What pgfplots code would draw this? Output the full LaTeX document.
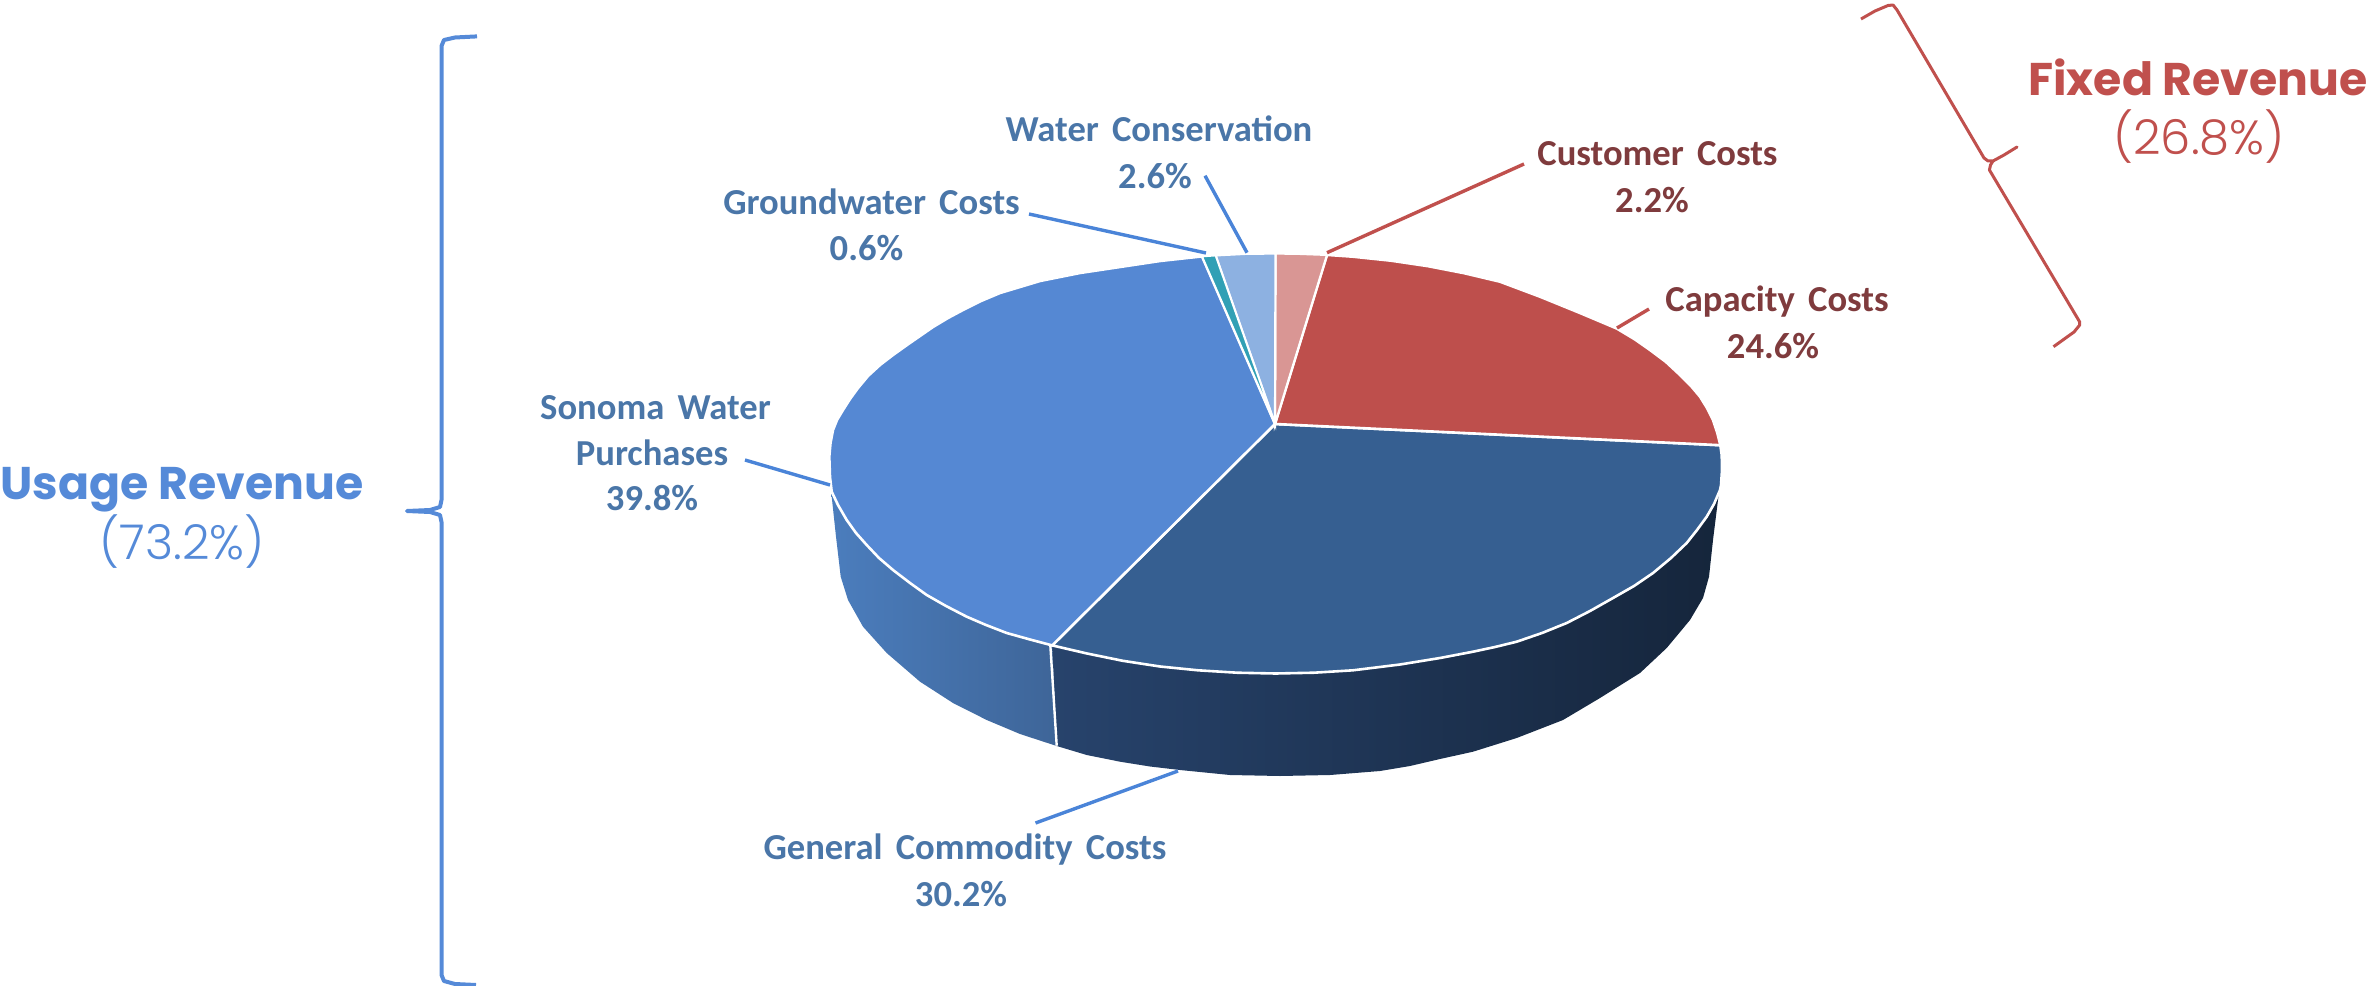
\documentclass[border=0pt]{standalone}
\usepackage{pgfplots}
\pgfplotsset{compat=1.18}
\usepackage{fontspec}
\setmainfont{Carlito}
\newfontfamily\headbold{Poppins}[BoldFont={Poppins Bold}]
\newfontfamily\headlight{Poppins Light}

\definecolor{wedgeblue}{HTML}{5588D3}
\definecolor{wedgedark}{HTML}{365F91}
\definecolor{wedgered}{HTML}{BE4F4C}
\definecolor{wedgepink}{HTML}{D99694}
\definecolor{wedgesky}{HTML}{8DB1E1}
\definecolor{wedgeteal}{HTML}{31A0B5}
\definecolor{labelblue}{HTML}{4A76A8}
\definecolor{labelred}{HTML}{7F3B3D}
\definecolor{lineblue}{HTML}{4A84D8}
\definecolor{linered}{HTML}{C0504D}
\definecolor{bracketblue}{HTML}{558AD8}
\definecolor{sideA}{HTML}{27436C}
\definecolor{sideB}{HTML}{16273E}
\definecolor{sideC}{HTML}{15253B}
\definecolor{sideD}{HTML}{4B7DBD}
\definecolor{sideE}{HTML}{3E6598}

% label centred on x with its baseline at y, pixel coordinates of the reference
\newcommand{\lbl}[4]{\node[anchor=base,inner sep=0pt,text=#1] at (axis cs:#2,#3)
  {\fontsize{18.3bp}{20bp}\selectfont\bfseries\spaceskip=0.36em #4};}

\begin{document}
\begin{tikzpicture}
\begin{axis}[
  width=1187bp, height=493bp, scale only axis,
  xmin=0, xmax=2374, ymin=0, ymax=986,
  y dir=reverse, hide axis, clip=false,
]
\path[use as bounding box] (axis cs:0,0) rectangle (axis cs:2374,986);

% side walls
\addplot[draw=none, left color=sideA, middle color=sideB, right color=sideC] coordinates {
  (1722,470) (1721,485) (1720,490) (1714,504) (1706.7,516.7) (1697,530) (1686.7,543) (1671,558) (1653,573)
  (1634,586) (1613,598) (1590,611) (1566.7,623) (1542,633) (1516.7,641.7) (1495,647) (1473,651.7) (1440,658)
  (1400,664.5) (1353,670.3) (1314,672.7) (1275.5,673.5) (1237,672.7) (1198,670.3) (1160,666.5) (1122.8,660.8)
  (1087,653.5) (1052.2,645.4)
  (1056.7,746) (1086.7,755) (1120,761.7) (1150,766.5) (1180,770) (1230,775) (1280,776) (1330,775) (1380,771)
  (1410,766) (1440,759) (1473,751.7) (1516.7,738) (1563,720) (1600,698) (1640,673) (1666.7,648) (1690,620)
  (1703,598) (1709,576.7) (1713,540) (1718,500)
} -- cycle;
\addplot[draw=none, left color=sideD, right color=sideE] coordinates {
  (831.7,491.7) (838,505) (846.7,520) (856,533) (866.7,545) (879,558) (893,570) (910,583) (926.7,595) (946,606)
  (966.7,616.7) (986,625) (1006.7,633) (1030,639.5) (1052.2,645.4)
  (1056.7,746) (1020,734) (986.7,720) (953,703) (920,681.7) (886.7,653) (863,626.7) (848,600) (840.7,576.7)
  (836,536.7) (831.7,496.7)
} -- cycle;
\addplot[white, line width=1.2bp] coordinates {(1050.3,645) (1056.7,745.7)};

% top face, one polygon per slice
\addplot[fill=wedgedark, draw=white, line width=1.3bp] coordinates { % General Commodity Costs 30.2
  (1275,424) (1720.3,445.2) (1721.7,455) (1722,470) (1721,485) (1720,490) (1714,504) (1706.7,516.7) (1697,530)
  (1686.7,543) (1671,558) (1653,573) (1634,586) (1613,598) (1590,611) (1566.7,623) (1542,633) (1516.7,641.7)
  (1495,647) (1473,651.7) (1440,658) (1400,664.5) (1353,670.3) (1314,672.7) (1275.5,673.5) (1237,672.7)
  (1198,670.3) (1160,666.5) (1122.8,660.8) (1087,653.5) (1052.2,645.4)
} -- cycle;
\addplot[fill=wedgeblue, draw=white, line width=1.3bp] coordinates { % Sonoma Water Purchases 39.8
  (1275,424) (1052.2,645.4) (1030,639.5) (1006.7,633) (986,625) (966.7,616.7) (946,606) (926.7,595) (910,583)
  (893,570) (879,558) (866.7,545) (856,533) (846.7,520) (838,505) (831.7,491.7) (830,477) (829.3,456.7)
  (830.5,443) (833,430) (837,420) (843,410) (850,399) (858,388) (868,376) (880,365) (893,355) (907,345)
  (920,336) (933,327) (948,318) (963,310) (981,301) (1000,293) (1020,287) (1040,281) (1060,277) (1080,273)
  (1100,270) (1120,267) (1160,261) (1202,256.4)
} -- cycle;
\addplot[fill=wedgered, draw=white, line width=1.3bp] coordinates { % Capacity Costs 24.6
  (1275,424) (1327,254.9) (1353,256.7) (1391.1,260.7) (1428.2,266.2) (1464.2,273.2) (1500,281.7) (1540,296.7)
  (1580,313) (1616.7,328.5) (1635,339.5) (1650,350) (1666,362) (1680,375) (1691,386) (1700,396.7) (1707,408)
  (1713,420) (1717,432) (1720.3,445.2)
} -- cycle;
\addplot[fill=wedgepink, draw=white, line width=1.1bp] coordinates { % Customer Costs 2.2
  (1275,424) (1275.5,253.5) (1300,253.9) (1327,254.9)
} -- cycle;
\addplot[fill=wedgesky, draw=white, line width=1.1bp] coordinates { % Water Conservation 2.6
  (1275,424) (1215.6,255.4) (1245,253.9) (1275.5,253.5)
} -- cycle;
\addplot[fill=wedgeteal, draw=white, line width=1.0bp] coordinates { % Groundwater Costs 0.6
  (1275,424) (1202,256.4) (1215.6,255.4)
} -- cycle;

% leader lines
\addplot[lineblue, line width=1.7bp] coordinates {(1205,175.7) (1247,252.7)};
\addplot[lineblue, line width=1.7bp] coordinates {(1029,214) (1206,253)};
\addplot[lineblue, line width=1.7bp] coordinates {(745,460) (830,485)};
\addplot[lineblue, line width=1.7bp] coordinates {(1035.5,823) (1178,771)};
\addplot[linered, line width=1.7bp] coordinates {(1524,164) (1327,252.7)};
\addplot[linered, line width=1.7bp] coordinates {(1649,309) (1617,328)};

% brackets
\addplot[bracketblue, line width=2bp, line join=round] coordinates {
  (477,36.4) (455,37.5) (444,40) (441.5,46) (441.5,500) (440,507) (430,510) (407,511)
  (430,512) (440,515) (441.5,522) (441.5,975) (444,981) (455,984) (476,985)
};
\addplot[linered, line width=1.5bp, line join=round] coordinates {
  (1861,19) (1875,11) (1888,5.5) (1893,5) (1897,10) (1984,158) (1988,161) (1993,161) (2004,155) (2017,147)
  (2004,155) (1993,161) (1990.5,165) (1989.4,170) (2079.7,322) (2079.7,325) (2074,332) (2053.5,346.7)
};

% slice labels
\lbl{labelblue}{1159}{141.7}{Water Conservation}
\lbl{labelblue}{1155}{188}{2.6\%}
\lbl{labelblue}{871.5}{214}{Groundwater Costs}
\lbl{labelblue}{866.5}{260.7}{0.6\%}
\lbl{labelblue}{655.5}{419}{Sonoma Water}
\lbl{labelblue}{652}{465}{Purchases}
\lbl{labelblue}{652}{510}{39.8\%}
\lbl{labelblue}{965}{859}{General Commodity Costs}
\lbl{labelblue}{961}{906}{30.2\%}
\lbl{labelred}{1657.5}{165.7}{Customer Costs}
\lbl{labelred}{1652}{212}{2.2\%}
\lbl{labelred}{1777}{311.7}{Capacity Costs}
\lbl{labelred}{1773}{358}{24.6\%}

% group headings
\node[anchor=base,inner sep=0pt,text=bracketblue] at (axis cs:182,499)
  {\fontsize{22.9bp}{24bp}\selectfont\headbold\bfseries Usage Revenue};
\node[anchor=base,inner sep=0pt,text=bracketblue] at (axis cs:182,559)
  {\fontsize{24bp}{26bp}\selectfont\headlight (73.2\%)};
\node[anchor=base,inner sep=0pt,text=linered] at (axis cs:2198,96)
  {\fontsize{22.9bp}{24bp}\selectfont\headbold\bfseries Fixed Revenue};
\node[anchor=base,inner sep=0pt,text=linered] at (axis cs:2199,155)
  {\fontsize{24bp}{26bp}\selectfont\headlight (26.8\%)};
\end{axis}
\end{tikzpicture}
\end{document}
